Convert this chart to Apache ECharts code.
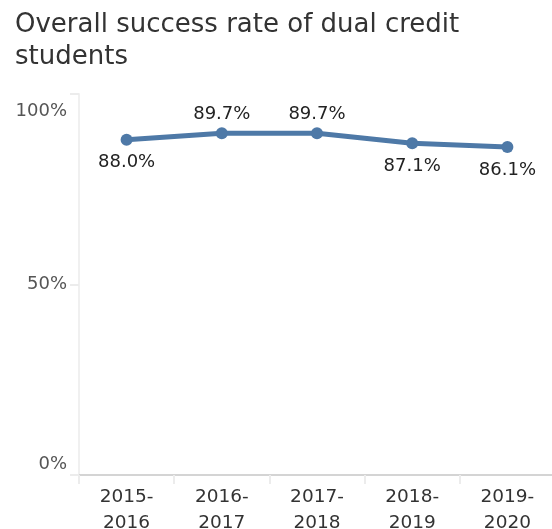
<!DOCTYPE html>
<html>
<head>
<meta charset="utf-8">
<script src="https://cdn.jsdelivr.net/npm/echarts@6/dist/echarts.min.js"></script>
<style>
  html, body { margin: 0; padding: 0; background: #ffffff; }
  #chart { width: 552px; height: 529px; }
</style>
</head>
<body>
<div id="chart"></div>
<script>
// School years shown on the x axis
const categories = ['2015-\n2016', '2016-\n2017', '2017-\n2018', '2018-\n2019', '2019-\n2020'];
// Success rate (%) per year
const successRate = [88.0, 89.7, 89.7, 87.1, 86.1];
// Where each value label sits relative to its point
const labelPositions = ['bottom', 'top', 'top', 'bottom', 'bottom'];
// Y axis ticks (%)
const yTicks = [0, 50, 100];

const FONT = '"DejaVu Sans", sans-serif';

const chart = echarts.init(document.getElementById('chart'), null, { renderer: 'canvas' });

chart.setOption({
  animation: false,
  backgroundColor: '#ffffff',
  title: {
    text: 'Overall success rate of dual credit\nstudents',
    left: 10,
    top: 4,
    textStyle: {
      fontFamily: FONT,
      fontSize: 26,
      fontWeight: 'normal',
      color: '#333333',
      lineHeight: 32
    }
  },
  grid: {
    left: 79,
    right: -3,
    top: 94,
    bottom: 54,
    containLabel: false,
    outerBoundsMode: 'none'
  },
  xAxis: {
    type: 'category',
    data: categories,
    boundaryGap: true,
    axisLine: { show: true, lineStyle: { color: '#d4d4d4', width: 2 } },
    axisTick: { show: true, length: 9, lineStyle: { color: '#ececec', width: 2 } },
    axisLabel: {
      fontFamily: FONT,
      fontSize: 18.5,
      color: '#333333',
      margin: 9,
      lineHeight: 26,
      interval: 0
    },
    splitLine: { show: false }
  },
  yAxis: {
    type: 'value',
    min: yTicks[0],
    max: yTicks[yTicks.length - 1],
    interval: yTicks[1] - yTicks[0],
    axisLine: { show: true, lineStyle: { color: '#f0f0f0', width: 2 } },
    axisTick: { show: true, length: 9, lineStyle: { color: '#ececec', width: 2 } },
    splitLine: { show: false },
    axisLabel: {
      fontFamily: FONT,
      fontSize: 18,
      color: '#555555',
      margin: 12,
      formatter: function (v) {
        if (v === yTicks[0]) return '{lo|' + v + '%}';
        if (v === yTicks[yTicks.length - 1]) return '{hi|' + v + '%}';
        return v + '%';
      },
      rich: {
        lo: { fontFamily: FONT, fontSize: 18, color: '#555555', padding: [0, 0, 22, 0] },
        hi: { fontFamily: FONT, fontSize: 18, color: '#555555', padding: [34, 0, 0, 0] }
      }
    }
  },
  series: [{
    type: 'line',
    data: successRate.map(function (v, i) {
      return {
        value: v,
        label: { position: labelPositions[i], distance: labelPositions[i] === 'top' ? 4 : 8 }
      };
    }),
    symbol: 'circle',
    symbolSize: 12,
    lineStyle: { color: '#4e79a7', width: 5 },
    itemStyle: { color: '#4e79a7' },
    label: {
      show: true,
      fontFamily: FONT,
      fontSize: 18,
      color: '#222222',
      formatter: function (p) { return p.value.toFixed(1) + '%'; }
    }
  }]
});
</script>
</body>
</html>
